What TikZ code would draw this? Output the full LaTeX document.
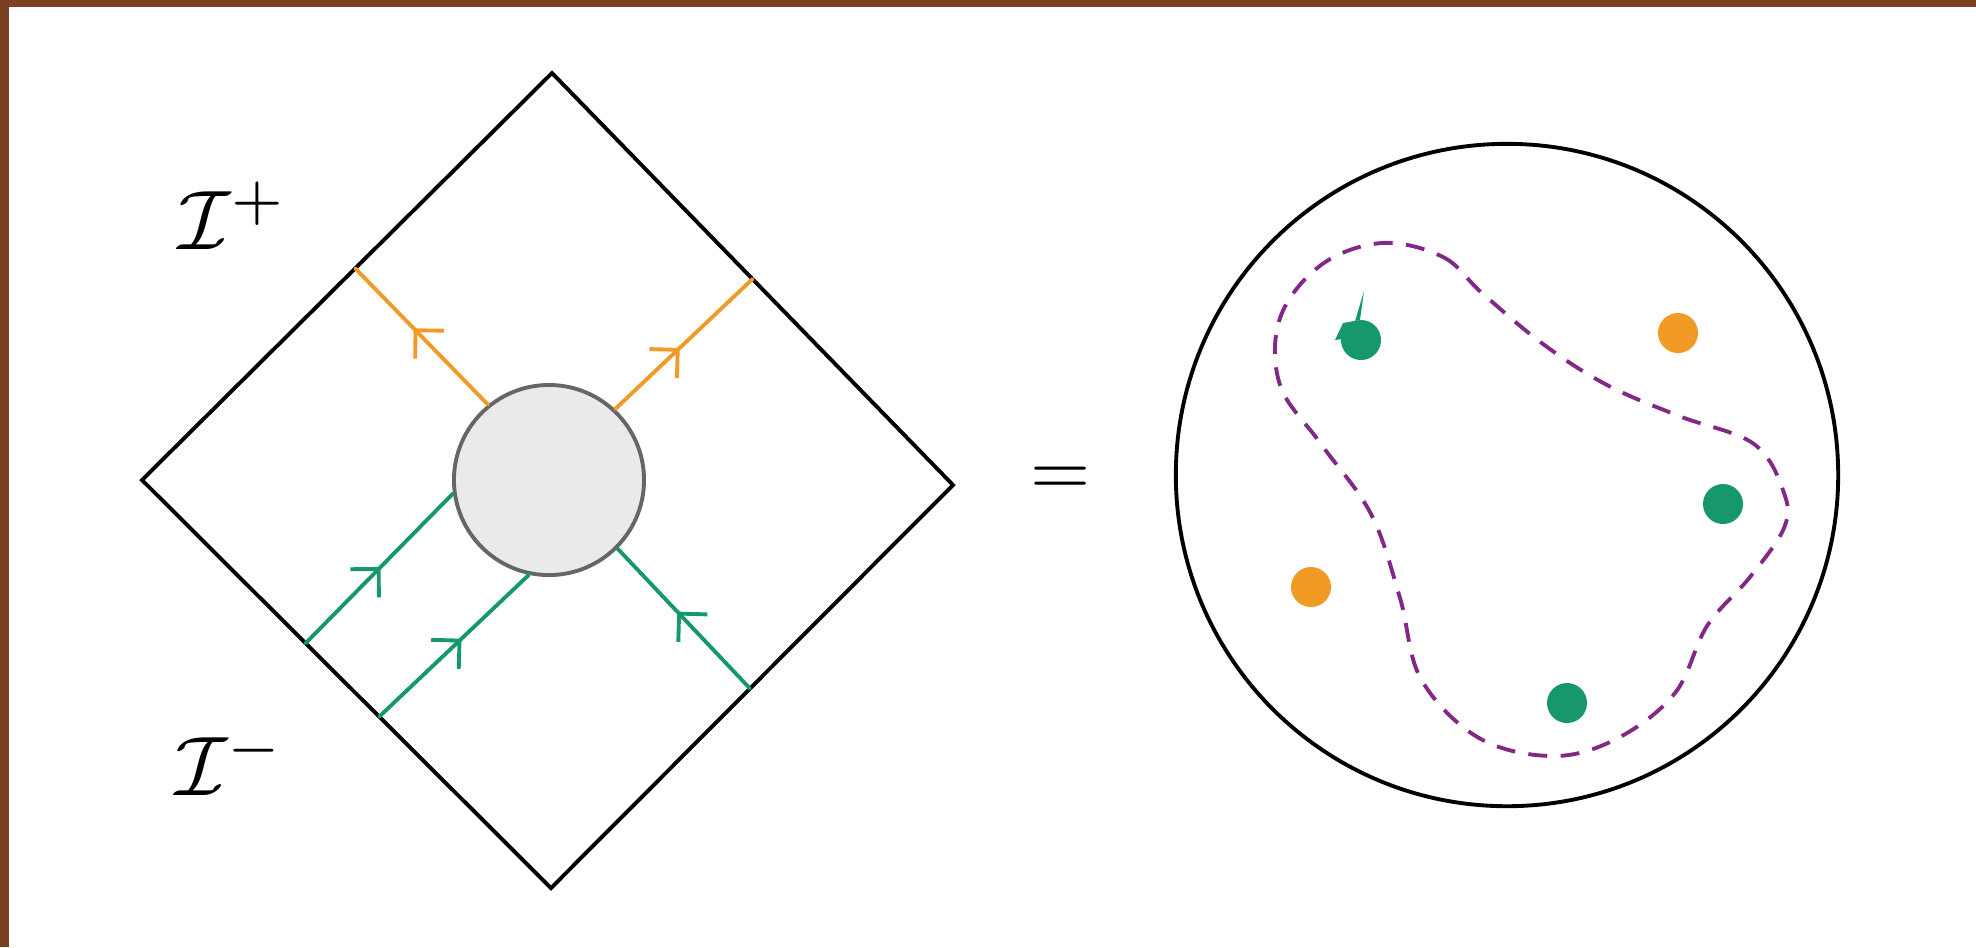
\documentclass[tikz,border=0pt]{standalone}
\usepackage{amsmath,amssymb}
\usepackage{xcolor}
\usepackage{tikz}
\usetikzlibrary{arrows.meta,calc,decorations.markings}
\definecolor{framebrown}{HTML}{7B3F22}
\definecolor{legorange}{HTML}{F29A26}
\definecolor{leggreen}{HTML}{16986C}
\definecolor{looppurple}{HTML}{822887}
\definecolor{blobgray}{HTML}{EAEAEA}
\definecolor{blobedge}{HTML}{666666}
\tikzset{
  penrose/.style={draw=black,line width=1.1pt,line join=miter},
  leg/.style={line width=1.1pt,line cap=round},
  orangeleg/.style={leg,draw=legorange},
  greenleg/.style={leg,draw=leggreen},
  midarrow/.style={postaction={decorate},decoration={markings,
    mark=at position #1 with {\arrow[line width=1.1pt,line cap=round]{Straight Barb[length=2mm,width=4mm]}}}},
  blob/.style={circle,draw=blobedge,fill=blobgray,line width=1.1pt,minimum size=1.9cm,inner sep=0pt},
  sphere/.style={circle,draw=black,line width=1.1pt,minimum size=6.62cm,inner sep=0pt},
  gdot/.style={circle,fill=leggreen,minimum size=0.4cm,inner sep=0pt},
  odot/.style={circle,fill=legorange,minimum size=0.4cm,inner sep=0pt},
  loopline/.style={draw=looppurple,line width=1.1pt,dash pattern=on 5.4pt off 3.8pt},
  scrilabel/.style={scale=2.4,inner sep=0pt}
}
\begin{document}
\begin{tikzpicture}[x=0.01cm,y=-0.01cm]
\useasboundingbox (0,0) rectangle (1976,947);
\fill[white] (0,0) rectangle (1976,947);
\fill[framebrown] (0,0) rectangle (1976,7);
\fill[framebrown] (0,0) rectangle (9,947);
% Penrose diagram
\coordinate (T) at (552,73);
\coordinate (L) at (142,480);
\coordinate (B) at (551,888);
\coordinate (R) at (953,485);
\draw[penrose] (T) -- (R) -- (B) -- (L) -- cycle;
\node[scrilabel] (scriplus) at (233,216) {$\mathcal{I}^+$};
\node[scrilabel] (scriminus) at (230,762) {$\mathcal{I}^-$};
\coordinate (out1) at ($(L)!0.52!(T)$);
\coordinate (out2) at ($(T)!0.50!(R)$);
\coordinate (in1) at ($(L)!0.40!(B)$);
\coordinate (in2) at ($(L)!0.58!(B)$);
\coordinate (in3) at ($(B)!0.495!(R)$);
\node[blob] (blob) at (549,480) {};
\draw[orangeleg,midarrow=0.56] (blob.129) -- (out1);
\draw[orangeleg,midarrow=0.47] (blob.47) -- (out2);
\draw[greenleg,midarrow=0.51] (in1) -- (blob.188);
\draw[greenleg,midarrow=0.55] (in2) -- (blob.258);
\draw[greenleg,midarrow=0.55] (in3) -- (blob.315);
% equals
\node[scale=2.2] (eq) at (1061,481) {$=$};
% celestial sphere
\node[sphere] (disk) at (1507,475) {};
\node[gdot] (g1) at (1361,340) {};
\node[odot] (o1) at (1678,333) {};
\node[gdot] (g2) at (1723,504) {};
\node[odot] (o2) at (1311,587) {};
\node[gdot] (g3) at (1567,703) {};
\fill[leggreen] (1364,291) -- (1360,320) -- (1343,323) -- (1335,340) -- (1350,338) -- cycle;
\draw[loopline] plot[smooth cycle,tension=0.6] coordinates {
  (1382,243) (1443,257) (1482,293) (1543,344) (1607,385) (1679,416)
  (1754,444) (1784,493) (1784,528) (1750,577) (1707,626) (1675,693)
  (1618,738) (1554,756) (1479,738) (1421,679) (1400,598) (1371,514)
  (1321,444) (1280,385) (1280,318) (1321,265)};
\end{tikzpicture}
\end{document}
